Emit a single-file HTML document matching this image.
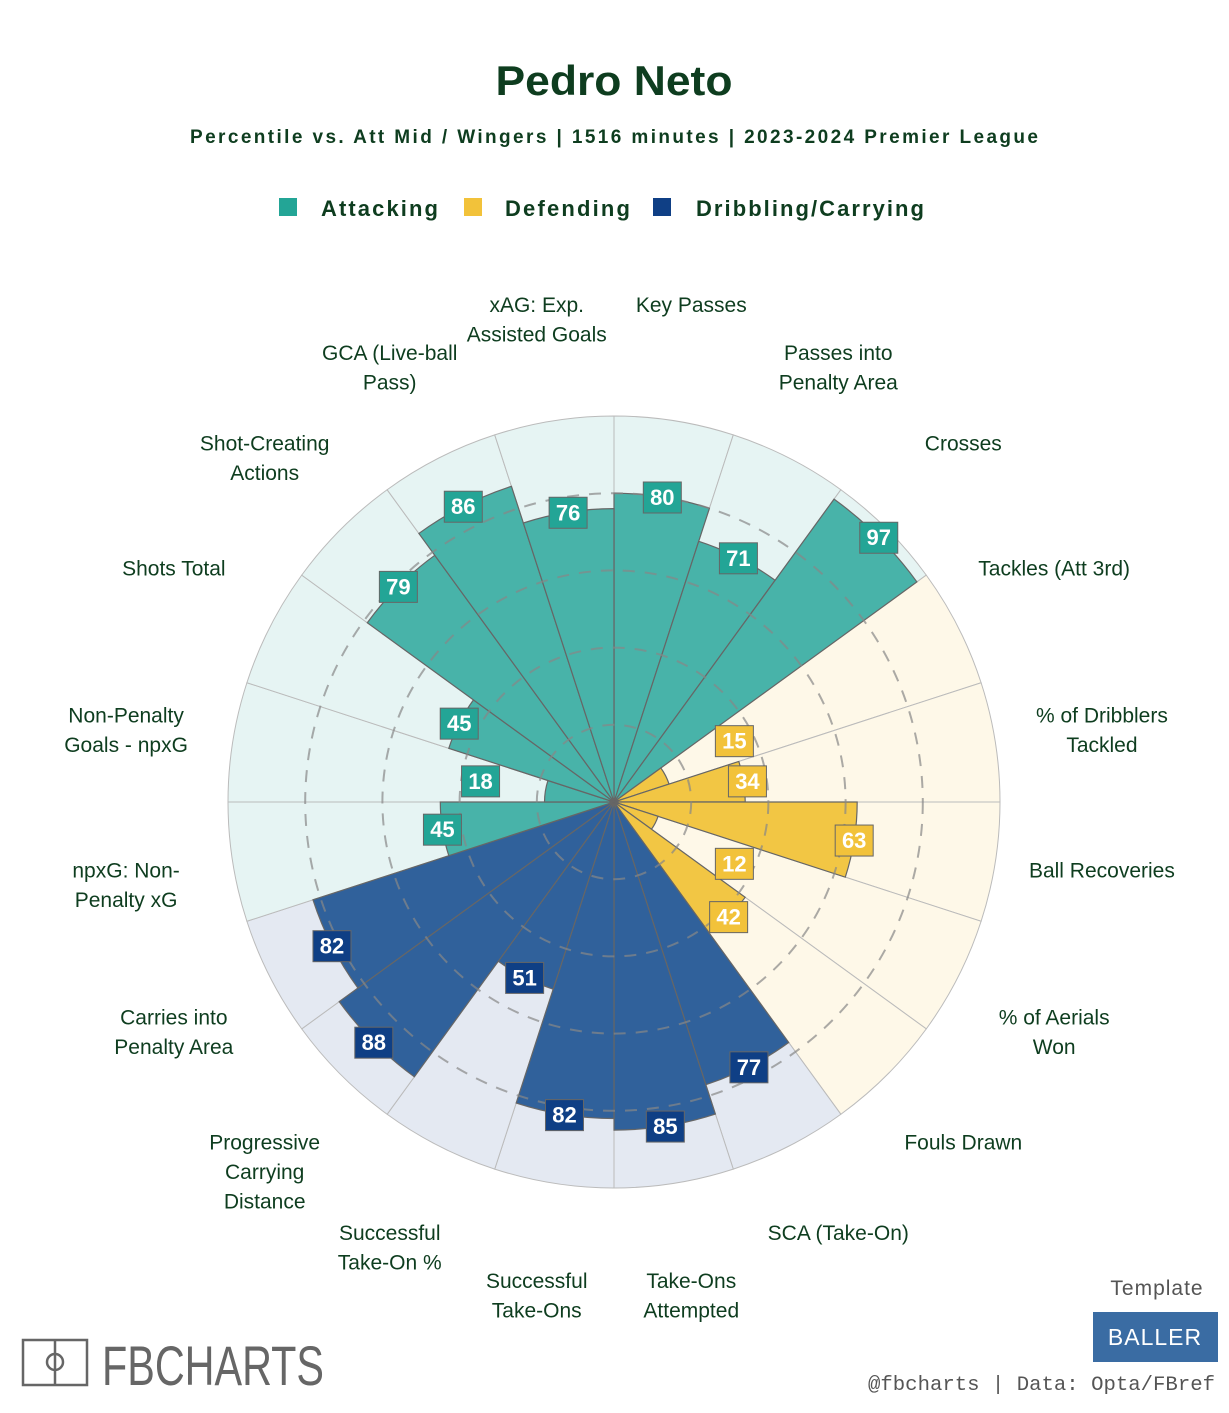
<!DOCTYPE html>
<html><head><meta charset="utf-8"><style>
body{margin:0;background:#fff;width:1229px;height:1408px;overflow:hidden;font-family:"Liberation Sans",sans-serif}
</style></head><body>
<svg id="chart" width="1229" height="1408" viewBox="0 0 1229 1408" xmlns="http://www.w3.org/2000/svg">
<text x="614" y="95" text-anchor="middle" font-size="42" font-weight="bold" fill="#0e3d1f" textLength="237" lengthAdjust="spacingAndGlyphs">Pedro Neto</text>
<text x="614" y="143" text-anchor="middle" font-size="19" font-weight="bold" fill="#0e3d1f" textLength="848" lengthAdjust="spacing">Percentile vs. Att Mid / Wingers | 1516 minutes | 2023-2024 Premier League</text>
<g font-size="22" font-weight="bold" fill="#0e3d1f">
<rect x="279" y="198" width="18" height="18" fill="#23a596"/>
<text x="321" y="216" textLength="117" lengthAdjust="spacing">Attacking</text>
<rect x="464" y="198" width="18" height="18" fill="#f2c23a"/>
<text x="505" y="216" textLength="125" lengthAdjust="spacing">Defending</text>
<rect x="653" y="198" width="18" height="18" fill="#0f3f85"/>
<text x="696" y="216" textLength="228" lengthAdjust="spacing">Dribbling/Carrying</text>
</g>
<g id="bg"></g><g id="bars"></g><g id="grid"></g><g id="vals"></g><g id="cats"></g>
<g fill="none" stroke="#666" stroke-width="2.5">
<rect x="23" y="1340" width="64" height="45"/><line x1="55" y1="1340" x2="55" y2="1385"/><circle cx="55" cy="1362" r="8"/>
</g>
<text x="102" y="1385" font-size="56" fill="#666" font-family="Liberation Sans Narrow, Liberation Sans, sans-serif" textLength="222" lengthAdjust="spacingAndGlyphs">FBCHARTS</text>
<text x="1157" y="1295" text-anchor="middle" font-size="21" fill="#555" letter-spacing="1">Template</text>
<rect x="1093" y="1312" width="125" height="50" fill="#3a6ca3"/>
<text x="1155" y="1345" text-anchor="middle" font-size="23" fill="#fff" letter-spacing="1">BALLER</text>
<text x="1215" y="1390" text-anchor="end" font-size="20" fill="#555" font-family="Liberation Mono, monospace" textLength="347" lengthAdjust="spacingAndGlyphs">@fbcharts | Data: Opta/FBref</text>
</svg>
<script>
const categories=["Key Passes","Passes into|Penalty Area","Crosses","Tackles (Att 3rd)","% of Dribblers|Tackled","Ball Recoveries","% of Aerials|Won","Fouls Drawn","SCA (Take-On)","Take-Ons|Attempted","Successful|Take-Ons","Successful|Take-On %","Progressive|Carrying|Distance","Carries into|Penalty Area","npxG: Non-|Penalty xG","Non-Penalty|Goals - npxG","Shots Total","Shot-Creating|Actions","GCA (Live-ball|Pass)","xAG: Exp.|Assisted Goals"];
const values=[80,71,97,15,34,63,12,42,77,85,82,51,88,82,45,18,45,79,86,76];
const groups=["att","att","att","def","def","def","def","def","drb","drb","drb","drb","drb","drb","att","att","att","att","att","att"];
const gridTicks=[20,40,60,80];
const CX=614,CY=802,R=386,NS="http://www.w3.org/2000/svg";
const col={att:{bg:"#e6f4f3",bar:"#48b3a9",box:"#23a596"},def:{bg:"#fef8e8",bar:"#f2c644",box:"#f2c23a"},drb:{bg:"#e4e9f2",bar:"#30619b",box:"#0f3f85"}};
function rr(v){return v/100*R;}
function pt(r,a){const t=a*Math.PI/180;return [CX+r*Math.sin(t),CY-r*Math.cos(t)];}
function wedge(r,a0,a1){const p0=pt(r,a0),p1=pt(r,a1);return `M${CX},${CY}L${p0[0]},${p0[1]}A${r},${r} 0 0 1 ${p1[0]},${p1[1]}Z`;}
function mk(tag,attrs,parent){const e=document.createElementNS(NS,tag);for(const k in attrs)e.setAttribute(k,attrs[k]);document.getElementById(parent).appendChild(e);return e;}
const step=360/categories.length;
categories.forEach((c,i)=>{
 const a0=i*step,a1=a0+step,g=col[groups[i]],am=a0+step/2;
 const b=mk("path",{d:wedge(R,a0,a1),fill:g.bg,stroke:"#bbb","stroke-width":1},"bg");
 
 
 const bar=mk("path",{d:wedge(rr(values[i]),a0,a1),fill:g.bar,stroke:"#666","stroke-width":1.2},"bars");
 
 
 const p=pt(rr(Math.max(values[i],35)),am);
 const box=mk("rect",{x:p[0]-19,y:p[1]-15,width:38,height:31,fill:g.box,stroke:"#666","stroke-width":1},"vals");
 
 
 const t=mk("text",{x:p[0],y:p[1]+8,"text-anchor":"middle","font-size":22,"font-weight":"bold",fill:"#fff"},"vals");
 
 
 t.textContent=values[i];
 const lp=pt(494,am),lines=c.split("|");
 const ct=mk("text",{"text-anchor":"middle","font-size":21,fill:"#0e3d1f"},"cats");
 
 
 lines.forEach((l,j)=>{const ts=document.createElementNS(NS,"tspan");ts.setAttribute("x",lp[0]);ts.setAttribute("y",lp[1]-2+j*29.5);ts.textContent=l;ct.appendChild(ts);});
});
gridTicks.forEach(v=>{
 const c=mk("circle",{cx:CX,cy:CY,r:rr(v),fill:"none",stroke:"#888","stroke-opacity":0.7,"stroke-width":2,"stroke-dasharray":"12 10"},"grid");
 
 
});
</script>
</body></html>
